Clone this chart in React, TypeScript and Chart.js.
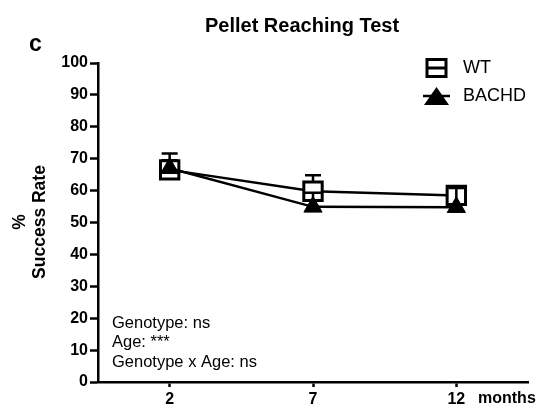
import React, { useEffect, useRef } from 'react';
import { Chart, registerables } from 'chart.js';

Chart.register(...registerables);

const months = ['2', '7', '12'];
const wtMean = [66.5, 59.8, 58.5];
const wtSem = [5.1, 5.0, 2.5];
const bachdMean = [67.0, 54.9, 54.8];
const bachdSem = [2.5, 4.4, 6.0];
const statsLines = ['Genotype: ns', 'Age: ***', 'Genotype x Age: ns'];
const titleText = 'Pellet Reaching Test';
const panelLetter = 'c';
const yTitleLines = ['%', 'Success Rate'];
const xUnit = 'months';
const legendLabels = ['WT', 'BACHD'];

const FONT = '"Liberation Sans", Arial, Helvetica, sans-serif';

const errorBars = {
  id: 'errorBars',
  beforeDatasetDraw(chart: any, args: any) {
    const ds = chart.data.datasets[args.index];
    const err: number[] = ds.err;
    if (!err) return;
    const meta = chart.getDatasetMeta(args.index);
    const ys = chart.scales.y;
    const ctx = chart.ctx;
    ctx.save();
    ctx.strokeStyle = '#000';
    ctx.lineWidth = 2.5;
    meta.data.forEach((pt: any, i: number) => {
      const top = ys.getPixelForValue(ds.data[i] + err[i]);
      ctx.beginPath();
      ctx.moveTo(pt.x, pt.y);
      ctx.lineTo(pt.x, top);
      ctx.moveTo(pt.x - 8, top);
      ctx.lineTo(pt.x + 8, top);
      ctx.stroke();
    });
    ctx.restore();
  },
};

const decorations = {
  id: 'decorations',
  afterDraw(chart: any) {
    const ctx = chart.ctx;
    ctx.save();
    ctx.fillStyle = '#000';
    ctx.strokeStyle = '#000';
    ctx.font = `bold 20px ${FONT}`;
    ctx.textAlign = 'center';
    ctx.textBaseline = 'middle';
    ctx.fillText(titleText, 302, 26);
    ctx.font = `bold 23px ${FONT}`;
    ctx.textAlign = 'left';
    ctx.fillText(panelLetter, 29, 45);
    ctx.save();
    ctx.translate(20, 222);
    ctx.rotate(-Math.PI / 2);
    ctx.font = `bold 17.5px ${FONT}`;
    ctx.textAlign = 'center';
    ctx.fillText(yTitleLines[0], 0, 0);
    ctx.fillText(yTitleLines[1], 0, 20);
    ctx.restore();
    ctx.font = `bold 16px ${FONT}`;
    ctx.textAlign = 'left';
    ctx.fillText(xUnit, 478, 399);
    ctx.font = `16.5px ${FONT}`;
    statsLines.forEach((t, i) => ctx.fillText(t, 112, 323 + i * 19.5));
    ctx.font = `18px ${FONT}`;
    ctx.fillStyle = '#fff';
    ctx.fillRect(427, 59.5, 19, 17);
    ctx.lineWidth = 3;
    ctx.strokeRect(427, 59.5, 19, 17);
    ctx.beginPath();
    ctx.moveTo(427, 68);
    ctx.lineTo(446, 68);
    ctx.stroke();
    ctx.fillStyle = '#000';
    ctx.fillText(legendLabels[0], 463, 68);
    ctx.beginPath();
    ctx.moveTo(436.5, 87);
    ctx.lineTo(449, 105);
    ctx.lineTo(424, 105);
    ctx.closePath();
    ctx.fill();
    ctx.lineWidth = 2.5;
    ctx.beginPath();
    ctx.moveTo(423, 96);
    ctx.lineTo(450, 96);
    ctx.stroke();
    ctx.fillText(legendLabels[1], 463, 96);
    ctx.restore();
  },
};

export default function App() {
  const ref = useRef<HTMLCanvasElement>(null);
  useEffect(() => {
    if (!ref.current) return;
    const chart = new Chart(ref.current, {
      type: 'line',
      data: {
        labels: months,
        datasets: [
          {
            label: legendLabels[0],
            data: wtMean,
            err: wtSem,
            order: 1,
            borderColor: '#000',
            borderWidth: 2.5,
            pointStyle: 'rect',
            pointRadius: 13,
            pointBorderWidth: 3,
            pointBackgroundColor: '#fff',
            pointBorderColor: '#000',
            fill: false,
          } as any,
          {
            label: legendLabels[1],
            data: bachdMean,
            err: bachdSem,
            order: 0,
            borderColor: '#000',
            borderWidth: 2.5,
            pointStyle: 'triangle',
            pointRadius: 10.5,
            pointBorderWidth: 1,
            pointBackgroundColor: '#000',
            pointBorderColor: '#000',
            fill: false,
          } as any,
        ],
      },
      options: {
        responsive: false,
        animation: false,
        devicePixelRatio: 1,
        layout: { padding: { left: 0, top: 63, right: 12, bottom: 0 } },
        plugins: { legend: { display: false }, title: { display: false }, tooltip: { enabled: false } },
        scales: {
          x: {
            type: 'category',
            offset: true,
            afterFit: (s: any) => { s.height = 28; },
            border: { display: true, color: '#000', width: 2.5 },
            grid: { display: true, drawOnChartArea: false, drawTicks: true, tickLength: 5, tickWidth: 2.5, tickColor: '#000' },
            ticks: { color: '#000', font: { family: FONT, size: 16, weight: 'bold' }, padding: 3, maxRotation: 0 },
          },
          y: {
            min: 0,
            max: 100,
            afterFit: (s: any) => { s.width = 98; },
            border: { display: true, color: '#000', width: 2.5 },
            grid: { display: true, drawOnChartArea: false, drawTicks: true, tickLength: 8, tickWidth: 2.5, tickColor: '#000' },
            ticks: { stepSize: 10, color: '#000', font: { family: FONT, size: 16, weight: 'bold' }, padding: 2 },
          },
        },
      },
      plugins: [errorBars, decorations],
    } as any);
    return () => chart.destroy();
  }, []);
  return (
    <div style={{ position: 'absolute', left: 0, top: 0, width: 544, height: 410, background: '#fff' }}>
      <canvas ref={ref} width={544} height={410} style={{ width: 544, height: 410 }} />
    </div>
  );
}
